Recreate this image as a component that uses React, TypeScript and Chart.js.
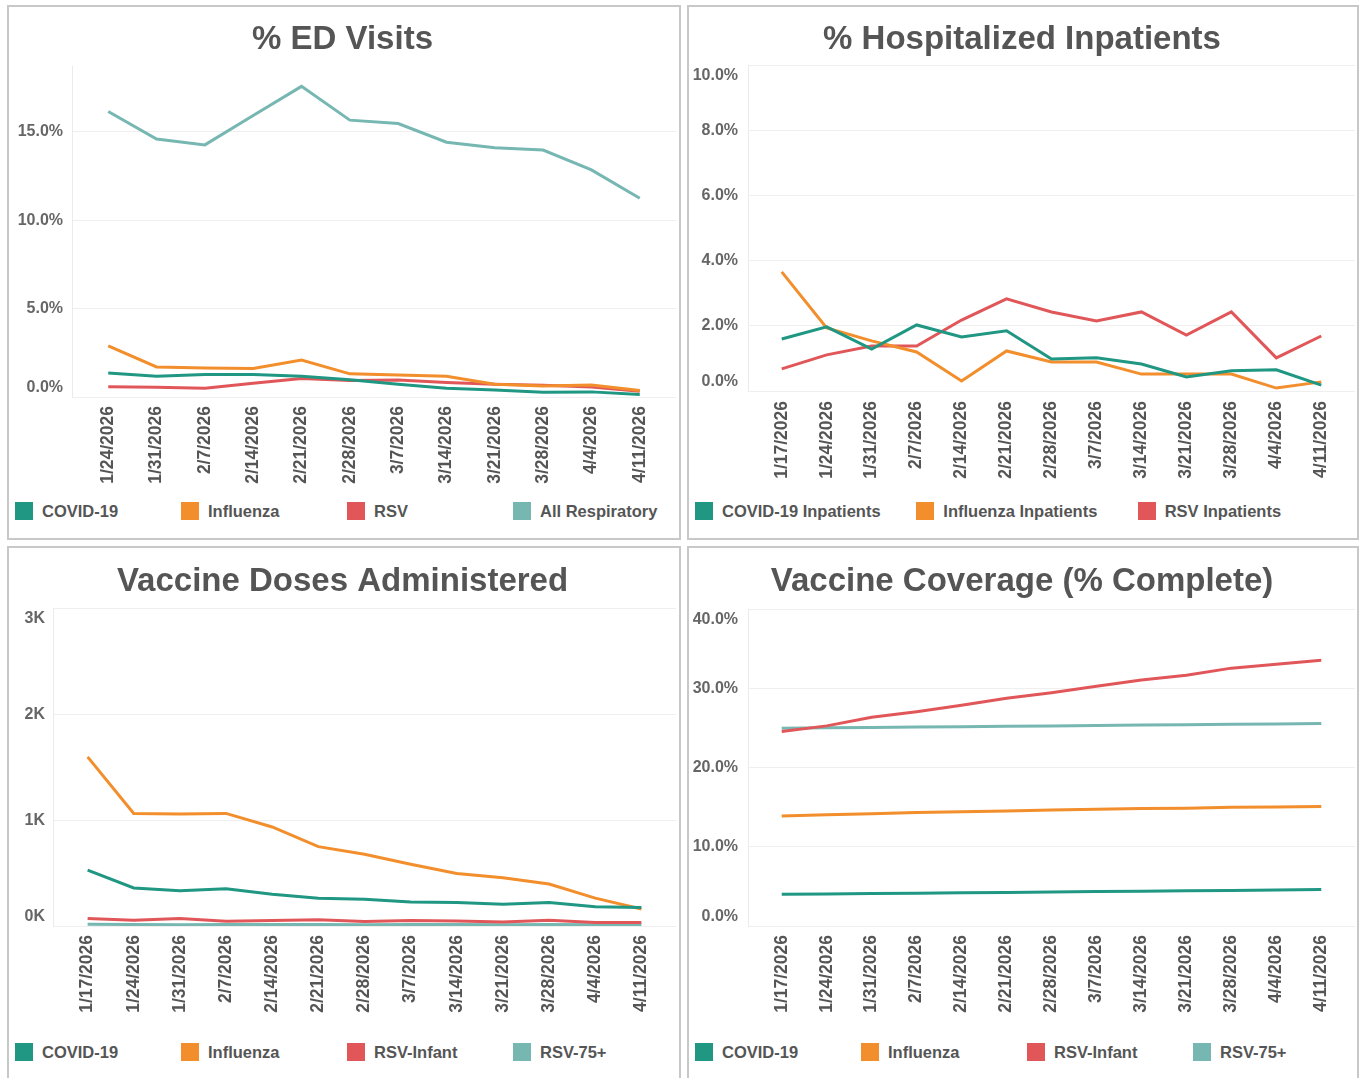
import React, { useEffect, useRef } from "react";
import { Chart, registerables } from "chart.js";

Chart.register(...registerables);

// ---------- categories ----------
const edWeeks = ["1/24/2026", "1/31/2026", "2/7/2026", "2/14/2026", "2/21/2026", "2/28/2026", "3/7/2026", "3/14/2026", "3/21/2026", "3/28/2026", "4/4/2026", "4/11/2026"];
const weeks = ["1/17/2026", "1/24/2026", "1/31/2026", "2/7/2026", "2/14/2026", "2/21/2026", "2/28/2026", "3/7/2026", "3/14/2026", "3/21/2026", "3/28/2026", "4/4/2026", "4/11/2026"];

// ---------- % ED Visits ----------
const edCovid = [1.36, 1.17, 1.27, 1.27, 1.17, 0.97, 0.72, 0.49, 0.39, 0.27, 0.29, 0.14];
const edFlu = [2.9, 1.7, 1.64, 1.62, 2.09, 1.31, 1.25, 1.17, 0.72, 0.62, 0.68, 0.37];
const edRsv = [0.58, 0.55, 0.49, 0.78, 1.05, 0.94, 0.96, 0.82, 0.72, 0.66, 0.57, 0.33];
const edAll = [16.16, 14.6, 14.27, 15.93, 17.58, 15.67, 15.48, 14.42, 14.11, 13.98, 12.85, 11.25];
const edTicks = [0, 5, 10, 15];

// ---------- % Hospitalized Inpatients ----------
const hospCovid = [1.6, 1.97, 1.29, 2.03, 1.66, 1.85, 0.98, 1.02, 0.83, 0.43, 0.62, 0.65, 0.18];
const hospFlu = [3.66, 1.94, 1.54, 1.2, 0.31, 1.23, 0.89, 0.89, 0.52, 0.52, 0.52, 0.09, 0.28];
const hospRsv = [0.68, 1.11, 1.38, 1.38, 2.18, 2.83, 2.43, 2.15, 2.43, 1.72, 2.43, 1.02, 1.69];
const hospTicks = [0, 2, 4, 6, 8, 10];

// ---------- Vaccine Doses Administered ----------
const doseCovid = [529, 359, 333, 353, 301, 263, 253, 228, 221, 205, 221, 183, 176];
const doseFlu = [1599, 1064, 1058, 1064, 936, 750, 679, 583, 497, 455, 397, 263, 160];
const doseRsvInfant = [71, 54, 71, 45, 51, 58, 42, 51, 48, 38, 54, 32, 32];
const doseRsv75 = [16, 14, 12, 13, 14, 13, 12, 13, 13, 12, 13, 12, 12];
const doseTicks = [0, 1000, 2000, 3000];

// ---------- Vaccine Coverage ----------
const covCovid = [4.0, 4.05, 4.1, 4.15, 4.2, 4.25, 4.3, 4.35, 4.4, 4.45, 4.5, 4.55, 4.6];
const covFlu = [13.9, 14.05, 14.2, 14.35, 14.45, 14.55, 14.65, 14.75, 14.85, 14.9, 15.0, 15.05, 15.1];
const covRsvInfant = [24.6, 25.3, 26.4, 27.1, 27.9, 28.8, 29.5, 30.3, 31.1, 31.7, 32.6, 33.1, 33.6];
const covRsv75 = [25.0, 25.05, 25.1, 25.15, 25.2, 25.25, 25.3, 25.35, 25.4, 25.45, 25.5, 25.55, 25.6];
const covTicks = [0, 10, 20, 30, 40];

const C_COVID = "#1f9783";
const C_FLU = "#f28e2b";
const C_RSV = "#e15759";
const C_LT = "#76b7b2";

const FONT = "'Liberation Sans', Arial, Helvetica, sans-serif";

type Series = { name: string; color: string; values: number[] };
type Cfg = {
  title: string;
  labels: string[];
  series: Series[];
  yTicks: number[];
  yMax: number;
  yFmt: (v: number) => string;
  shiftTop: boolean;
  shiftBottom: boolean;
  yAxisW: number;
  yPad: number;
  titlePadTop: number;
  titlePadBottom: number;
  xAxisH: number;
  xPad: number;
  padRight: number;
};
type Box = { left: number; top: number; width: number; height: number };

const pct = (v: number) => v.toFixed(1) + "%";
const kfmt = (v: number) => Math.round(v / 1000) + "K";

function Panel({ box, cfg, cols }: { box: Box; cfg: Cfg; cols: number }) {
  const ref = useRef<HTMLCanvasElement>(null);
  const cw = box.width - 4;
  const ch = 490;
  useEffect(() => {
    const n = cfg.labels.length;
    const chart = new Chart(ref.current as HTMLCanvasElement, {
      type: "line",
      data: {
        datasets: cfg.series.map((s) => ({
          label: s.name,
          data: s.values.map((v, i) => ({ x: i, y: v })),
          borderColor: s.color,
          backgroundColor: s.color,
          borderWidth: 3,
          pointRadius: 0,
          tension: 0,
          fill: false,
        })),
      },
      options: {
        animation: false,
        responsive: false,
        events: [],
        layout: { padding: { left: 0, top: 0, bottom: 0, right: cfg.padRight } },
        plugins: {
          legend: { display: false },
          tooltip: { enabled: false },
          title: {
            display: true,
            text: cfg.title,
            color: "#555555",
            font: { family: FONT, size: 33, weight: "bold", lineHeight: 1.2 },
            padding: { top: cfg.titlePadTop, bottom: cfg.titlePadBottom },
          },
        },
        scales: {
          x: {
            type: "linear",
            min: -0.75,
            max: n - 0.25,
            afterBuildTicks: (s: any) => {
              s.ticks = cfg.labels.map((_, i) => ({ value: i }));
            },
            afterFit: (s: any) => {
              s.height = cfg.xAxisH;
            },
            grid: { display: false },
            border: { display: false },
            ticks: {
              autoSkip: false,
              minRotation: 90,
              maxRotation: 90,
              padding: cfg.xPad,
              color: "#555555",
              font: { family: FONT, size: 17.5, weight: "bold" },
              callback: (_v: any, i: number) => cfg.labels[i],
            },
          },
          y: {
            min: 0,
            max: cfg.yMax,
            afterBuildTicks: (s: any) => {
              s.ticks = cfg.yTicks.map((v) => ({ value: v }));
            },
            afterFit: (s: any) => {
              s.width = cfg.yAxisW;
            },
            grid: { color: "#efefef", lineWidth: 1, drawTicks: false },
            border: { display: true, color: "#ebebeb" },
            ticks: {
              padding: cfg.yPad,
              color: "#666666",
              font: { family: FONT, size: 16, weight: "bold" },
              callback: (v: any) => {
                const t = cfg.yFmt(Number(v));
                if (cfg.shiftBottom && Number(v) === cfg.yTicks[0]) return [t, ""];
                if (cfg.shiftTop && Number(v) === cfg.yMax) return ["", t];
                return t;
              },
            },
          },
        },
      } as any,
    });
    return () => chart.destroy();
  }, []);
  const colW = 664 / cols;
  return (
    <div
      style={{
        position: "absolute",
        left: box.left,
        top: box.top,
        width: box.width,
        height: box.height,
        border: "2px solid #c8c8c8",
        boxSizing: "border-box",
        background: "#ffffff",
        overflow: "hidden",
      }}
    >
      <canvas ref={ref} width={cw} height={ch} style={{ position: "absolute", left: 0, top: 0, width: cw, height: ch, display: "block" }} />
      <div style={{ position: "absolute", left: 6, top: 494, width: 664, height: 20, display: "flex" }}>
        {cfg.series.map((s) => (
          <div key={s.name} style={{ width: colW, display: "flex", alignItems: "center", height: 20 }}>
            <div style={{ width: 18, height: 18, background: s.color, marginRight: 9, flex: "none" }} />
            <span style={{ fontFamily: FONT, fontWeight: "bold", fontSize: 16.5, color: "#555555", whiteSpace: "nowrap" }}>{s.name}</span>
          </div>
        ))}
      </div>
    </div>
  );
}

const edCfg: Cfg = {
  title: "% ED Visits",
  labels: edWeeks,
  series: [
    { name: "COVID-19", color: C_COVID, values: edCovid },
    { name: "Influenza", color: C_FLU, values: edFlu },
    { name: "RSV", color: C_RSV, values: edRsv },
    { name: "All Respiratory", color: C_LT, values: edAll },
  ],
  yTicks: edTicks,
  yMax: 18.7,
  yFmt: pct,
  shiftTop: false,
  shiftBottom: true,
  yAxisW: 63,
  yPad: 9,
  titlePadTop: 13,
  titlePadBottom: 7,
  xAxisH: 100,
  xPad: 1,
  padRight: 3,
};

const hospCfg: Cfg = {
  title: "% Hospitalized Inpatients",
  labels: weeks,
  series: [
    { name: "COVID-19 Inpatients", color: C_COVID, values: hospCovid },
    { name: "Influenza Inpatients", color: C_FLU, values: hospFlu },
    { name: "RSV Inpatients", color: C_RSV, values: hospRsv },
  ],
  yTicks: hospTicks,
  yMax: 10,
  yFmt: pct,
  shiftTop: true,
  shiftBottom: true,
  yAxisW: 59,
  yPad: 10,
  titlePadTop: 13,
  titlePadBottom: 6,
  xAxisH: 106,
  xPad: 2,
  padRight: 2,
};

const doseCfg: Cfg = {
  title: "Vaccine Doses Administered",
  labels: weeks,
  series: [
    { name: "COVID-19", color: C_COVID, values: doseCovid },
    { name: "Influenza", color: C_FLU, values: doseFlu },
    { name: "RSV-Infant", color: C_RSV, values: doseRsvInfant },
    { name: "RSV-75+", color: C_LT, values: doseRsv75 },
  ],
  yTicks: doseTicks,
  yMax: 3000,
  yFmt: kfmt,
  shiftTop: true,
  shiftBottom: true,
  yAxisW: 44,
  yPad: 8,
  titlePadTop: 14,
  titlePadBottom: 7,
  xAxisH: 112,
  xPad: 1,
  padRight: 3,
};

const covCfg: Cfg = {
  title: "Vaccine Coverage (% Complete)",
  labels: weeks,
  series: [
    { name: "COVID-19", color: C_COVID, values: covCovid },
    { name: "Influenza", color: C_FLU, values: covFlu },
    { name: "RSV-Infant", color: C_RSV, values: covRsvInfant },
    { name: "RSV-75+", color: C_LT, values: covRsv75 },
  ],
  yTicks: covTicks,
  yMax: 40,
  yFmt: pct,
  shiftTop: true,
  shiftBottom: true,
  yAxisW: 59,
  yPad: 10,
  titlePadTop: 14,
  titlePadBottom: 8,
  xAxisH: 112,
  xPad: 1,
  padRight: 2,
};

export default function App() {
  return (
    <div style={{ position: "absolute", left: 0, top: 0, width: 1360, height: 1078, background: "#ffffff", overflow: "hidden" }}>
      <Panel box={{ left: 7, top: 5, width: 674, height: 535 }} cfg={edCfg} cols={4} />
      <Panel box={{ left: 687, top: 5, width: 672, height: 535 }} cfg={hospCfg} cols={3} />
      <Panel box={{ left: 7, top: 546, width: 674, height: 540 }} cfg={doseCfg} cols={4} />
      <Panel box={{ left: 687, top: 546, width: 672, height: 540 }} cfg={covCfg} cols={4} />
    </div>
  );
}
